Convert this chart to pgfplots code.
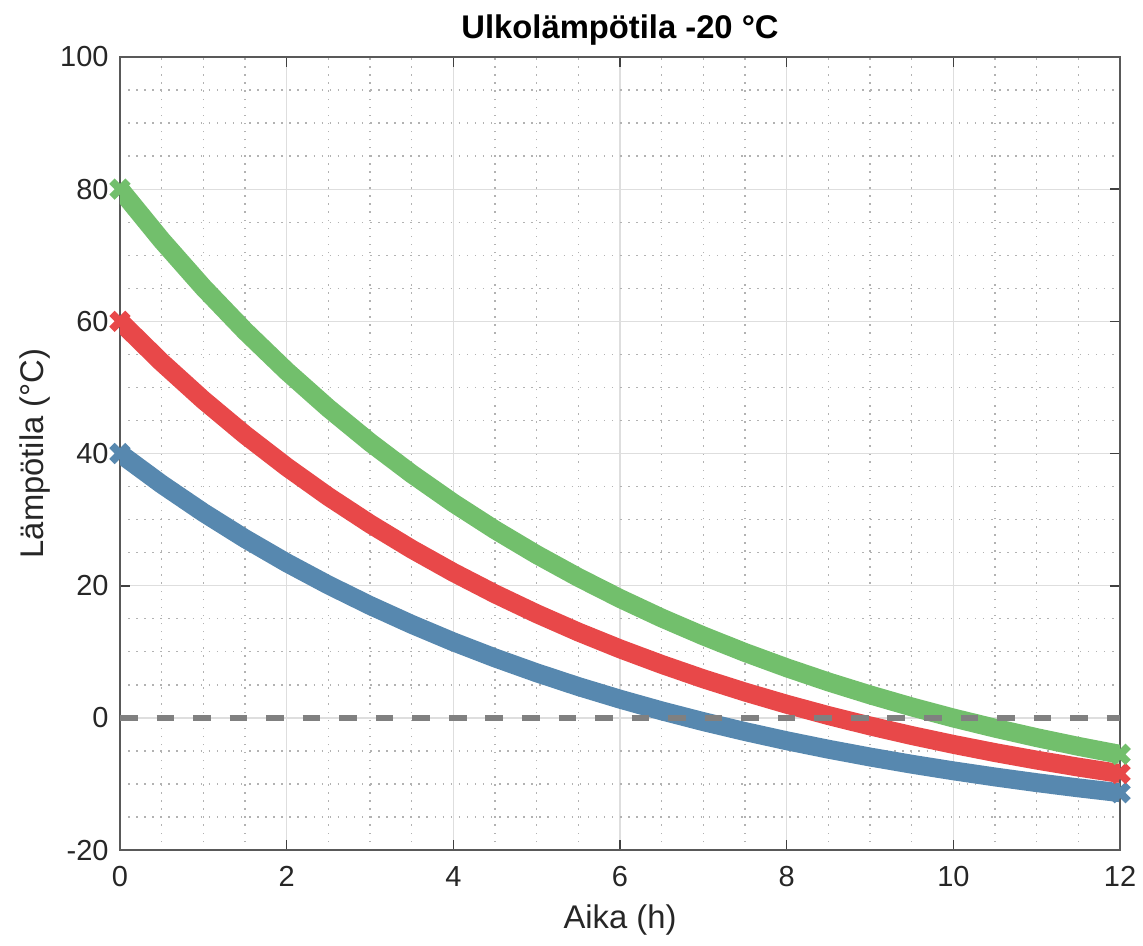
\documentclass[border=0pt]{standalone}
\usepackage{fontspec}
\setmainfont{Liberation Sans}
\usepackage{pgfplots}
\usepackage{pgfplotstable}
\pgfplotsset{compat=1.18}

\definecolor{cgreen}{RGB}{114,191,108}
\definecolor{cred}{RGB}{232,72,73}
\definecolor{cblue}{RGB}{87,136,175}

% cooling curves, start 40 / 60 / 80 C
\pgfplotstableread{
t    blue    red     green
0    40.00   60.00   80.00
0.5  35.36   53.81   72.27
1    31.08   48.10   65.13
1.5  27.13   42.84   58.55
2    23.48   37.98   52.47
2.5  20.12   33.49   46.87
3    17.02   29.36   41.70
3.5  14.16   25.54   36.93
4    11.51   22.02   32.52
4.5   9.08   18.77   28.46
5     6.83   15.77   24.71
5.5   4.75   13.00   21.26
6     2.84   10.45   18.07
6.5   1.07    8.10   15.12
7    -0.56    5.92   12.41
7.5  -2.06    3.92    9.90
8    -3.45    2.07    7.59
8.5  -4.73    0.36    5.45
9    -5.91   -1.21    3.49
9.5  -7.00   -2.66    1.67
10   -8.00   -4.00   -0.01
10.5 -8.93   -5.24   -1.55
11   -9.79   -6.38   -2.98
11.5 -10.58  -7.44   -4.30
12   -11.31  -8.41   -5.51
}\cooling

\begin{document}
\begin{tikzpicture}
\begin{axis}[
    name=ax,
    scale only axis,
    width=396.8pt, height=314.7pt,
    xmin=0, xmax=12, ymin=-20, ymax=100,
    xtick={0,2,...,12}, ytick={-20,0,...,100},
    minor x tick num=3, minor y tick num=3,
    grid=both,
    major grid style={draw=black!13, line width=0.5pt},
    minor grid style={draw=black!30, line width=0.5pt, dash pattern=on 0.6pt off 2.6pt},
    axis line style={draw=black!65, line width=0.8pt},
    tick align=inside,
    major tick length=4pt, minor tick length=0pt,
    tick style={draw=black!75, line width=0.6pt},
    ticklabel style={font=\fontsize{11.5}{13}\selectfont, text=black!85},
    /pgf/number format/assume math mode=true,
    xticklabel style={yshift=-3pt},
    yticklabel style={xshift=-1pt},
    xlabel={Aika (h)},
    ylabel={Lämpötila (°C)},
    label style={font=\fontsize{13}{15}\selectfont, text=black!85},
    xlabel style={at={(axis description cs:0.5,-0.088)}, anchor=center},
    ylabel style={at={(axis description cs:-0.085,0.5)}, anchor=center},
    title={Ulkolämpötila -20 °C},
    title style={font=\bfseries\fontsize{13}{15}\selectfont, at={(axis description cs:0.5,1.015)}, anchor=center},
]
\addplot[cblue, line width=7.5pt, mark=x, mark indices={1,25}, mark size=4.5pt, mark options={solid, line width=3pt}] table[x=t, y=blue] {\cooling};
\addplot[cred, line width=7.5pt, mark=x, mark indices={1,25}, mark size=4.5pt, mark options={solid, line width=3pt}] table[x=t, y=red] {\cooling};
\addplot[cgreen, line width=7.5pt, mark=x, mark indices={1,25}, mark size=4.5pt, mark options={solid, line width=3pt}] table[x=t, y=green] {\cooling};
\addplot[black!50, line width=2.4pt, dash pattern=on 7pt off 7.5pt] coordinates {(0,0) (12,0)};
\end{axis}
\pgfresetboundingbox
\path[use as bounding box] ([xshift=-47.6pt,yshift=-37.7pt]ax.south west) rectangle ([xshift=9.1pt,yshift=22.6pt]ax.north east);
\end{tikzpicture}
\end{document}
